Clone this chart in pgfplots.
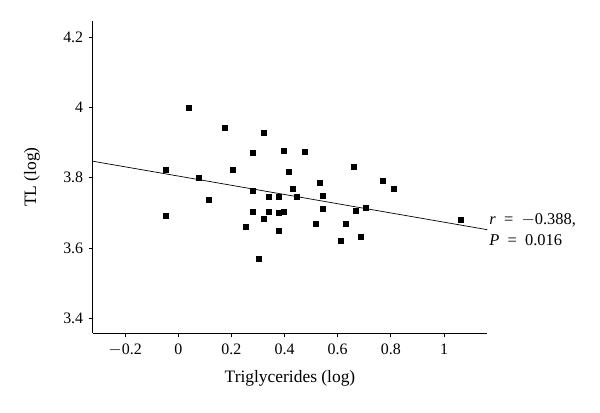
\documentclass[border=0pt]{standalone}
\usepackage{pgfplots}
\pgfplotsset{compat=1.18}
\usepackage{fontspec}
\setmainfont{Liberation Serif}
\begin{document}
\begin{tikzpicture}
\path[use as bounding box] (-92.7bp,-79.7bp) rectangle (507.3bp,333.3bp);
\begin{axis}[
  at={(0,0)}, anchor=south west,
  scale only axis,
  width=394.6bp, height=312.6bp,
  xmin=-0.322, xmax=1.163,
  ymin=3.357, ymax=4.247,
  axis lines=left,
  axis line style={-, line width=1.1pt},
  tick align=outside,
  major tick length=4bp,
  tick style={black, line width=0.9pt},
  xtick={-0.2,0,0.2,0.4,0.6,0.8,1},
  ytick={3.4,3.6,3.8,4,4.2},
  xticklabels={$-$0.2,0,0.2,0.4,0.6,0.8,1},
  yticklabels={3.4,3.6,3.8,4,4.2},
  ticklabel style={font=\fontsize{16}{17}\selectfont},
  xticklabel style={yshift=-3bp},
  yticklabel style={xshift=-2bp},
  xlabel={Triglycerides (log)},
  ylabel={TL (log)},
  label style={font=\fontsize{17.5}{19}\selectfont},
  xlabel style={at={(axis description cs:0.5,0)}, anchor=center, yshift=-45bp},
  ylabel style={at={(axis description cs:-0.154,0.5)}, anchor=center},
  clip=false,
]
\addplot[only marks, mark=square*, mark size=2.5bp, black] coordinates {
(-0.046,3.822) (-0.046,3.693) (0.040,4.000) (0.078,3.801) (0.113,3.736)
(0.176,3.941) (0.203,3.824) (0.254,3.661) (0.279,3.872) (0.279,3.762)
(0.279,3.704) (0.301,3.570) (0.321,3.928) (0.321,3.682) (0.342,3.747)
(0.342,3.702) (0.379,3.747) (0.379,3.701) (0.379,3.649) (0.398,3.704)
(0.398,3.877) (0.414,3.816) (0.431,3.768) (0.447,3.747) (0.477,3.874)
(0.518,3.668) (0.531,3.787) (0.545,3.750) (0.545,3.711) (0.610,3.620)
(0.630,3.668) (0.659,3.831) (0.669,3.706) (0.688,3.631) (0.704,3.715)
(0.768,3.791) (0.810,3.768) (1.062,3.680)
};
\addplot[black, line width=0.7pt, no marks] coordinates {(-0.322,3.847) (1.163,3.652)};
\node[anchor=west, align=left, inner sep=0pt, font=\fontsize{16.5}{21}\selectfont]
  at (axis cs:1.17,3.651) {\textit{r}\enspace=\enspace$-$0.388,\\ \textit{P}\enspace=\enspace0.016};
\end{axis}
\end{tikzpicture}
\end{document}
